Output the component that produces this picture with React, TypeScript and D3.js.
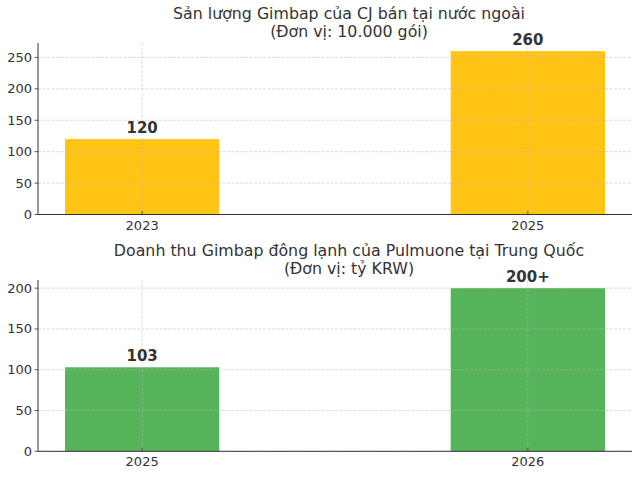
import * as d3 from "d3";

const W = 640;
const H = 477;
const FONT = "'DejaVu Sans'";

// Top chart
const cjYears = ["2023", "2025"];
const cjValues = [120, 260];
const cjLabels = ["120", "260"];
const cjTitle = ["Sản lượng Gimbap của CJ bán tại nước ngoài", "(Đơn vị: 10.000 gói)"];
const cjTicks = [0, 50, 100, 150, 200, 250];

// Bottom chart
const pmYears = ["2025", "2026"];
const pmValues = [103, 200];
const pmLabels = ["103", "200+"];
const pmTitle = ["Doanh thu Gimbap đông lạnh của Pulmuone tại Trung Quốc", "(Đơn vị: tỷ KRW)"];
const pmTicks = [0, 50, 100, 150, 200];

const LEFT = 38;
const RIGHT = 632;
const TITLE_X = 349;

function Panel({
  top,
  bottom,
  years,
  values,
  labels,
  title,
  ticks,
  color,
}: {
  top: number;
  bottom: number;
  years: string[];
  values: number[];
  labels: string[];
  title: string[];
  ticks: number[];
  color: string;
}) {
  const maxV = d3.max(values) || 0;
  const y = d3.scaleLinear().domain([0, maxV * 1.05]).range([bottom, top]);
  const x = d3.scaleLinear().domain([-0.27, years.length - 1 + 0.27]).range([LEFT, RIGHT]);
  const bw = x(0.4) - x(0);
  const grid = { stroke: "#b8b8b8", strokeOpacity: 0.65, strokeWidth: 0.8, strokeDasharray: "3,1.5" };

  return (
    <g>
      <text x={TITLE_X} y={top - 24} textAnchor="middle" fontSize={15.8} fill="#333">
        {title[0]}
      </text>
      <text x={TITLE_X} y={top - 6} textAnchor="middle" fontSize={15.8} fill="#333">
        {title[1]}
      </text>
      {values.map((v, i) => (
        <rect
          key={"b" + i}
          x={x(i) - bw / 2}
          y={y(v)}
          width={bw}
          height={y(0) - y(v)}
          fill={color}
          fillOpacity={0.95}
        />
      ))}
      {ticks.map((t) => (
        <line key={"gy" + t} x1={LEFT} x2={RIGHT} y1={y(t)} y2={y(t)} {...grid} />
      ))}
      {years.map((_, i) => (
        <line key={"gx" + i} x1={x(i)} x2={x(i)} y1={top} y2={bottom} {...grid} />
      ))}
      <line x1={LEFT} x2={LEFT} y1={top} y2={bottom} stroke="#333" strokeWidth={1} />
      <line x1={LEFT} x2={RIGHT} y1={bottom} y2={bottom} stroke="#333" strokeWidth={1} />
      {ticks.map((t) => (
        <g key={"ty" + t}>
          <line x1={LEFT - 3.5} x2={LEFT} y1={y(t)} y2={y(t)} stroke="#333" strokeWidth={0.8} />
          <text x={LEFT - 6} y={y(t)} dy="0.35em" textAnchor="end" fontSize={13} fill="#333">
            {t}
          </text>
        </g>
      ))}
      {years.map((yr, i) => (
        <g key={"tx" + i}>
          <line x1={x(i)} x2={x(i)} y1={bottom - 3.5} y2={bottom} stroke="#333" strokeWidth={0.8} />
          <text x={x(i)} y={bottom + 15} textAnchor="middle" fontSize={13} fill="#333">
            {yr}
          </text>
        </g>
      ))}
      {values.map((v, i) => (
        <text
          key={"l" + i}
          x={x(i)}
          y={y(v) - 6}
          textAnchor="middle"
          fontSize={15}
          fontWeight="bold"
          fill="#333"
        >
          {labels[i]}
        </text>
      ))}
    </g>
  );
}

export default function App() {
  return (
    <div style={{ position: "absolute", left: 0, top: 0 }}>
      <svg
        width={W}
        height={H}
        style={{ display: "block", background: "#fff", fontFamily: FONT }}
      >
        <Panel
          top={43}
          bottom={214.5}
          years={cjYears}
          values={cjValues}
          labels={cjLabels}
          title={cjTitle}
          ticks={cjTicks}
          color="#FFC107"
        />
        <Panel
          top={280}
          bottom={451.3}
          years={pmYears}
          values={pmValues}
          labels={pmLabels}
          title={pmTitle}
          ticks={pmTicks}
          color="#4CAF50"
        />
      </svg>
    </div>
  );
}
